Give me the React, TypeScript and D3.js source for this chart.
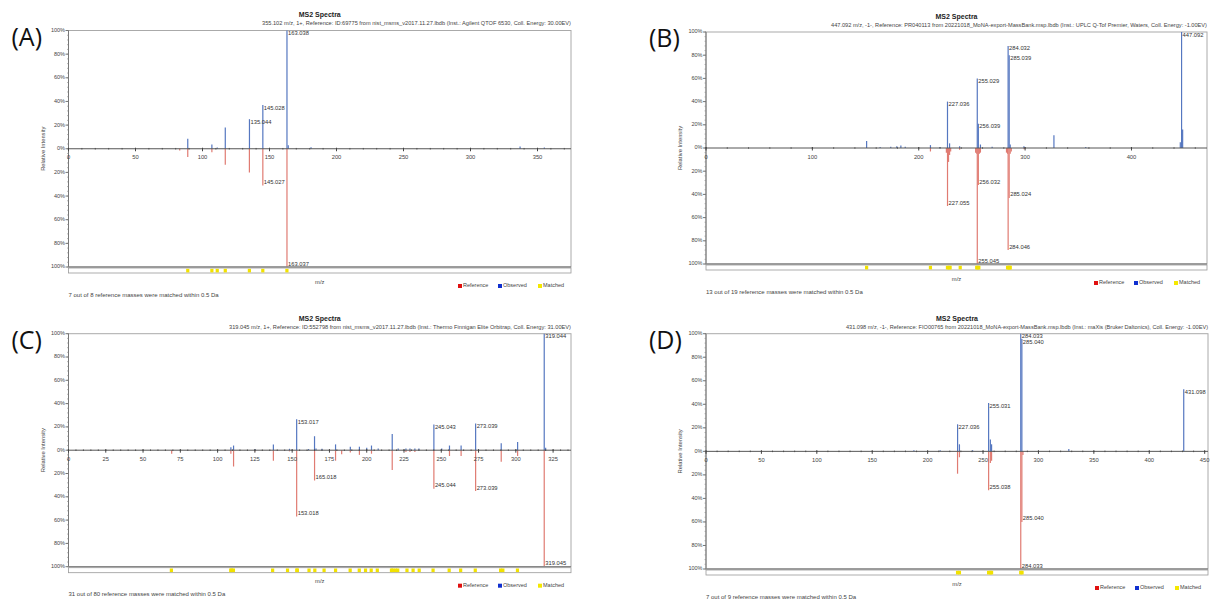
import React from 'react';
import * as d3 from 'd3';

type Peak = [number, number]; // [m/z, relative intensity %]

// ---- (A) ----
const obsA: Peak[] = [
  [89.0, 8.5], [107.0, 3.5], [111.0, 1.0], [117.0, 18], [135.044, 25], [145.028, 37],
  [163.038, 100], [164.0, 3], [181.0, 1.2], [337.0, 1.8], [355.1, 1],
];
const refA: Peak[] = [
  [83.0, 1.5], [89.0, 7], [107.0, 3], [117.0, 13.5], [135.0, 20], [145.027, 31], [163.037, 100],
];
const obsLabelsA = [135.044, 145.028, 163.038];
const refLabelsA = [145.027, 163.037];
const matchedA = [89, 107, 111, 117, 135, 145, 163];

// ---- (B) ----
const obsB: Peak[] = [
  [151.0, 6], [163.7, 0.8], [173.7, 1], [179.4, 1.5], [183.2, 2.2], [187.3, 1], [211.0, 2.5],
  [220.0, 0.8], [227.036, 40], [229.0, 4], [238.4, 1.5], [255.029, 60], [256.039, 21], [258.0, 3],
  [269.0, 1], [284.032, 88], [285.039, 80], [286.0, 3], [298.9, 1.5], [327.1, 11], [357.0, 0.8],
  [445.9, 5], [447.092, 100], [448.1, 16],
];
const refB: Peak[] = [
  [211.0, 3], [226.0, 4], [227.055, 50], [228.0, 12], [229.0, 6], [230.0, 3], [238.4, 1.5],
  [253.5, 4], [254.5, 5], [255.045, 100], [256.032, 32], [257.0, 5], [258.0, 4], [282.5, 4],
  [283.5, 5], [284.046, 88], [285.024, 43], [286.0, 5], [287.0, 3], [299.0, 1],
];
const obsLabelsB = [227.036, 255.029, 256.039, 284.032, 285.039, 447.092];
const refLabelsB = [227.055, 256.032, 255.045, 284.046, 285.024];
const matchedB = [151, 211, 227, 228.5, 229.5, 239, 254.5, 255.5, 256.5, 283.5, 284.5, 285.5, 286];

// ---- (C) ----
const obsC: Peak[] = [
  [108.9, 2.5], [110.7, 4], [125.2, 0.8], [137.4, 5], [148.2, 1.2], [153.017, 26.5], [161.0, 1],
  [165.0, 12], [166.0, 1.5], [170.0, 1.2], [179.1, 5], [189.0, 3], [195.1, 3], [200.0, 2],
  [203.2, 4], [207.7, 1.5], [217.1, 14], [221.1, 1.5], [226.3, 1.5], [229.0, 1.5], [232.3, 1.5],
  [235.0, 1.5], [245.043, 22], [250.3, 1.5], [255.5, 4], [263.3, 4], [273.039, 23], [290.2, 6],
  [301.2, 7], [319.044, 100], [320.0, 2],
];
const refC: Peak[] = [
  [69.2, 3], [108.9, 3], [110.7, 14], [125.2, 1], [137.4, 9], [148.2, 1], [153.018, 57],
  [165.018, 26], [179.1, 9], [183.2, 3.5], [189.0, 2], [195.1, 4], [203.2, 3], [217.1, 17],
  [226.3, 1.5], [229.0, 1.5], [232.3, 1.5], [245.044, 33], [255.5, 5], [263.3, 5],
  [273.039, 35], [290.2, 10], [301.2, 5], [319.045, 100],
];
const obsLabelsC = [153.017, 245.043, 273.039, 319.044];
const refLabelsC = [153.018, 165.018, 245.044, 273.039, 319.045];
const matchedC = [
  69.0, 108.8, 109.5, 110.6, 136.9, 146.9, 153.1, 153.5, 161.3, 165.2, 171.4, 179.1, 188.9, 195.0,
  199.2, 203.0, 207.1, 216.6, 217.5, 219.3, 220.8, 227.0, 231.1, 235.2, 244.5, 255.3, 263.0,
  272.8, 289.8, 291.3, 301.1,
];

// ---- (D) ----
const obsD: Peak[] = [
  [187.6, 1], [211.3, 1], [227.036, 23], [228.7, 6], [240.6, 1], [255.031, 41], [256.6, 10],
  [257.7, 6], [284.033, 100], [285.040, 95.5], [327.4, 2], [431.098, 52.7],
];
const refD: Peak[] = [
  [227.0, 19], [228.7, 5], [255.038, 33], [256.6, 10], [257.7, 8], [284.033, 100], [285.04, 60], [286.0, 3],
];
const obsLabelsD = [227.036, 255.031, 284.033, 285.040, 431.098];
const refLabelsD = [255.038, 285.04, 284.033];
const matchedD = [227, 228.7, 255, 256.6, 257.7, 284, 285.2];

const panels = [
  {
    letter: '(A)', left: 68.5, right: 571, top: 30.5, bottom: 267, xMax: 375, major: 50, minor: 10,
    obs: obsA, ref: refA, obsLabels: obsLabelsA, refLabels: refLabelsA, matched: matchedA,
    subtitle: '355.102 m/z, 1+, Reference: ID:69775 from nist_msms_v2017.11.27.lbdb (Inst.: Agilent QTOF 6530, Coll. Energy: 30.00EV)',
    subW: 309, footer: '7 out of 8 reference masses were matched within 0.5 Da',
  },
  {
    letter: '(B)', left: 706, right: 1207, top: 32, bottom: 264, xMax: 471, major: 100, minor: 20,
    obs: obsB, ref: refB, obsLabels: obsLabelsB, refLabels: refLabelsB, matched: matchedB,
    subtitle: '447.092 m/z, -1-, Reference: PR040113 from 20221018_MoNA-export-MassBank.msp.lbdb (Inst.: UPLC Q-Tof Premier, Waters, Coll. Energy: -1.00EV)',
    subW: 376, footer: '13 out of 19 reference masses were matched within 0.5 Da',
  },
  {
    letter: '(C)', left: 68.5, right: 571, top: 333.7, bottom: 566.7, xMax: 337, major: 25, minor: 5,
    obs: obsC, ref: refC, obsLabels: obsLabelsC, refLabels: refLabelsC, matched: matchedC,
    subtitle: '319.045 m/z, 1+, Reference: ID:552798 from nist_msms_v2017.11.27.lbdb (Inst.: Thermo Finnigan Elite Orbitrap, Coll. Energy: 31.00EV)',
    subW: 342, footer: '31 out of 80 reference masses were matched within 0.5 Da',
  },
  {
    letter: '(D)', left: 706, right: 1208, top: 333.7, bottom: 569, xMax: 453, major: 50, minor: 10,
    obs: obsD, ref: refD, obsLabels: obsLabelsD, refLabels: refLabelsD, matched: matchedD,
    subtitle: '431.098 m/z, -1-, Reference: FIO00765 from 20221018_MoNA-export-MassBank.msp.lbdb (Inst.: maXis (Bruker Daltonics), Coll. Energy: -1.00EV)',
    subW: 362, footer: '7 out of 9 reference masses were matched within 0.5 Da',
  },
];

const FONT = '"Liberation Sans", Arial, sans-serif';
const OBS = '#5577c0';
const REF = '#e07b72';
const TXT = '#444';

const Panel = ({ p }: { p: any }) => {
  const zero = (p.top + p.bottom) / 2;
  const x = d3.scaleLinear().domain([0, p.xMax]).range([p.left, p.right]);
  const yUp = d3.scaleLinear().domain([0, 100]).range([zero, p.top]);
  const yDown = d3.scaleLinear().domain([0, 100]).range([zero, p.bottom]);
  const majors = d3.range(0, p.xMax + 0.01, p.major);
  const minors = d3.range(0, p.xMax + 0.01, p.minor);
  const yMajor = [100, 80, 60, 40, 20, 0];
  const yMinor = d3.range(0, 100.01, 4);
  const find = (arr: Peak[], mz: number) => arr.find(d => d[0] === mz) as Peak;
  const cx = (p.left + p.right) / 2;
  const lx = p.right - 113;

  return (
    <g fontFamily={FONT}>
      <text x={p.left - 57} y={p.top + 15} fontSize={25} fontFamily='"Open Sans", "Noto Sans", sans-serif' fill="#111">{p.letter}</text>
      <text x={cx} y={p.top - 15} textAnchor="middle" dominantBaseline="middle" fontSize={7} fontWeight="bold" fill="#222">MS2 Spectra</text>
      <text x={p.right} y={p.top - 6.5} textAnchor="end" dominantBaseline="middle" fontSize={5.2} fill={TXT}
        textLength={p.subW} lengthAdjust="spacingAndGlyphs">{p.subtitle}</text>

      {/* frame */}
      <rect x={p.left} y={p.top} width={p.right - p.left} height={p.bottom - p.top} fill="#fff" stroke="#aaa" strokeWidth={1} />

      {/* y axis */}
      <line x1={p.left} x2={p.left} y1={p.top} y2={p.bottom} stroke="#777" />
      {yMinor.map(v => (
        <g key={'ym' + v}>
          <line x1={p.left - 1.5} x2={p.left} y1={yUp(v)} y2={yUp(v)} stroke="#888" strokeWidth={0.6} />
          <line x1={p.left - 1.5} x2={p.left} y1={yDown(v)} y2={yDown(v)} stroke="#888" strokeWidth={0.6} />
        </g>
      ))}
      {yMajor.map(v => (
        <g key={'y' + v}>
          <line x1={p.left - 3} x2={p.left} y1={yUp(v)} y2={yUp(v)} stroke="#777" />
          <text x={p.left - 3.5} y={yUp(v)} textAnchor="end" dominantBaseline="middle" fontSize={5.5} fill={TXT}>{v}%</text>
          {v > 0 && (
            <>
              <line x1={p.left - 3} x2={p.left} y1={yDown(v)} y2={yDown(v)} stroke="#777" />
              <text x={p.left - 3.5} y={yDown(v)} textAnchor="end" dominantBaseline="middle" fontSize={5.5} fill={TXT}>{v}%</text>
            </>
          )}
        </g>
      ))}
      <text transform={`translate(${p.left - 24},${zero}) rotate(-90)`} textAnchor="middle" fontSize={5.8} fill={TXT}>Relative Intensity</text>

      {/* peaks */}
      {p.ref.map((d: Peak, i: number) => (
        <line key={'r' + i} x1={x(d[0])} x2={x(d[0])} y1={zero} y2={yDown(d[1])} stroke={REF} strokeWidth={1.2} />
      ))}
      {p.obs.map((d: Peak, i: number) => (
        <line key={'o' + i} x1={x(d[0])} x2={x(d[0])} y1={zero} y2={yUp(d[1])} stroke={OBS} strokeWidth={1.2} />
      ))}

      {/* x axis on zero line */}
      <line x1={p.left} x2={p.right} y1={zero} y2={zero} stroke="#555" />
      {minors.map(v => (
        <line key={'xm' + v} x1={x(v)} x2={x(v)} y1={zero - 0.8} y2={zero + 0.8} stroke="#444" strokeWidth={0.8} />
      ))}
      {majors.map(v => (
        <g key={'x' + v}>
          <line x1={x(v)} x2={x(v)} y1={zero - 1} y2={zero + 2.5} stroke="#444" />
          <text x={x(v)} y={zero + 9} textAnchor="middle" dominantBaseline="middle" fontSize={5.8} fill={TXT}>{v}</text>
        </g>
      ))}

      {/* peak labels */}
      {p.obsLabels.map((mz: number) => {
        const d = find(p.obs, mz);
        return (
          <text key={'ol' + mz} x={x(d[0]) + 1} y={yUp(d[1]) + 3} dominantBaseline="middle" fontSize={5.8} fill="#333">{mz.toFixed(3)}</text>
        );
      })}
      {p.refLabels.map((mz: number) => {
        const d = find(p.ref, mz);
        return (
          <text key={'rl' + mz} x={x(d[0]) + 1} y={yDown(d[1]) - 3} dominantBaseline="middle" fontSize={5.8} fill="#333">{mz.toFixed(3)}</text>
        );
      })}

      {/* matched strip */}
      <line x1={p.left} x2={p.right} y1={p.bottom} y2={p.bottom} stroke="#888" strokeWidth={1.5} />
      <rect x={p.left} y={p.bottom + 1} width={p.right - p.left} height={5} fill="#fff" stroke="#999" strokeWidth={0.8} />
      {p.matched.map((mz: number, i: number) => (
        <rect key={'m' + i} x={x(mz) - 1.6} y={p.bottom + 1.8} width={3.2} height={3.6} fill="#f2e200" />
      ))}

      <text x={cx} y={p.bottom + 15} textAnchor="middle" dominantBaseline="middle" fontSize={5.8} fill={TXT}>m/z</text>

      {/* legend */}
      {[['Reference', '#e01010'], ['Observed', '#1030d0'], ['Matched', '#f5e800']].map(([name, c], i) => (
        <g key={name} transform={`translate(${lx + i * 40},${p.bottom + 19})`}>
          <rect x={0} y={-2} width={4} height={4} fill={c} />
          <text x={5} y={0} dominantBaseline="middle" fontSize={5.5} fill={TXT}>{name}</text>
        </g>
      ))}

      <text x={p.left} y={p.bottom + 28} dominantBaseline="middle" fontSize={6} fill={TXT}>{p.footer}</text>
    </g>
  );
};

export default function App() {
  return (
    <div style={{ position: 'absolute', left: 0, top: 0 }}>
      <svg width={1210} height={601} style={{ display: 'block', background: '#fff' }}>
        {panels.map(p => <Panel key={p.letter} p={p} />)}
      </svg>
    </div>
  );
}
